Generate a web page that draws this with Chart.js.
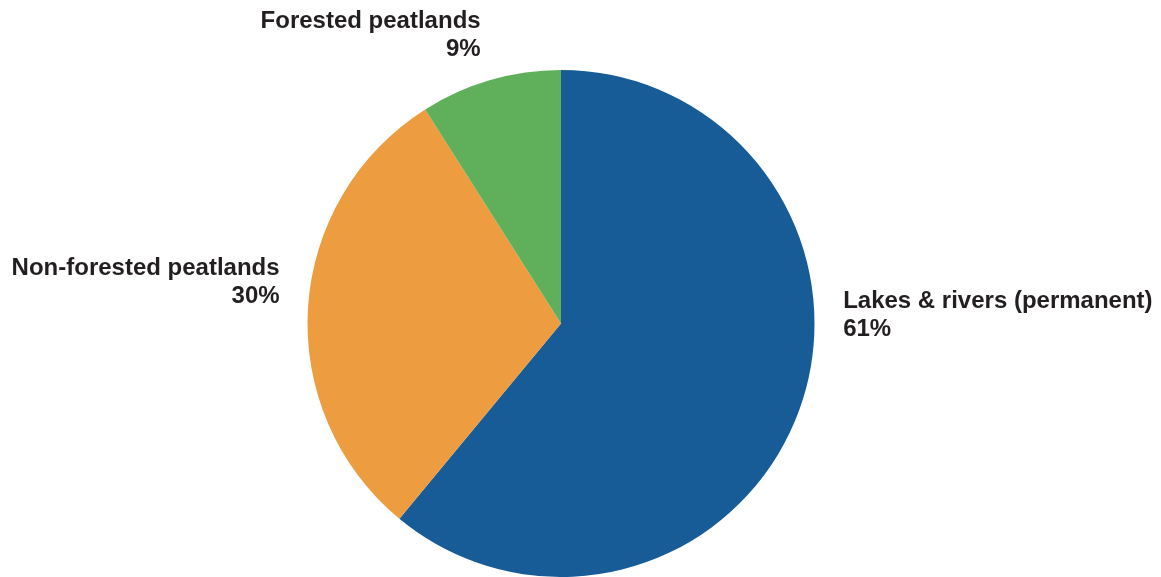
<!DOCTYPE html>
<html>
<head>
<meta charset="utf-8">
<script src="https://cdn.jsdelivr.net/npm/chart.js@4/dist/chart.umd.min.js"></script>
<style>
  html, body { margin: 0; padding: 0; background: #fff; }
  #wrap { width: 1161px; height: 577px; }
</style>
</head>
<body>
<div id="wrap"><canvas id="pieChart" width="1161" height="577"></canvas></div>
<script>
const categories = ['Lakes & rivers (permanent)', 'Non-forested peatlands', 'Forested peatlands'];
const shares = [61, 30, 9];
const percentLabels = ['61%', '30%', '9%'];
const sliceColors = ['#175c97', '#ee9c40', '#60af5a'];

// where each label sits, relative to the pie centre, in units of radius
const labelSpots = [
    { dx: 1.113, dy: -0.06, align: 'left' },
    { dx: -1.110, dy: -0.19, align: 'right' },
    { dx: -0.317, dy: -1.165, align: 'right' }
];

const outsideLabels = {
    id: 'outsideLabels',
    afterDraw(chart) {
        const ctx = chart.ctx;
        const arc = chart.getDatasetMeta(0).data[0];
        const cx = arc.x, cy = arc.y, r = arc.outerRadius;
        ctx.save();
        ctx.fillStyle = '#231f20';
        ctx.font = 'bold 24px "Liberation Sans", Arial, sans-serif';
        ctx.textBaseline = 'alphabetic';
        categories.forEach((name, i) => {
            const spot = labelSpots[i];
            const x = cx + spot.dx * r;
            const y = cy + spot.dy * r;
            ctx.textAlign = spot.align;
            ctx.fillText(name, x, y);
            ctx.fillText(percentLabels[i], x, y + 28);
        });
        ctx.restore();
    }
};

new Chart(document.getElementById('pieChart'), {
    type: 'pie',
    data: {
        labels: categories,
        datasets: [{
            data: shares,
            backgroundColor: sliceColors,
            borderWidth: 0
        }]
    },
    options: {
        responsive: false,
        animation: false,
        layout: { padding: { top: 70, bottom: 0, left: 0, right: 39 } },
        plugins: {
            legend: { display: false },
            tooltip: { enabled: false }
        }
    },
    plugins: [outsideLabels]
});
</script>
</body>
</html>
